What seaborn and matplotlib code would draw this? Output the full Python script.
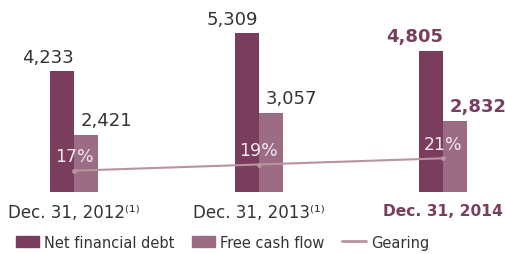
import pandas as pd
import matplotlib.pyplot as plt
from matplotlib.patches import Patch
from matplotlib.lines import Line2D
import seaborn as sns

periods = ["Dec. 31, 2012⁽¹⁾", "Dec. 31, 2013⁽¹⁾", "Dec. 31, 2014"]
net_debt = [4233, 5309, 4805]
free_cash_flow = [2421, 3057, 2832]
gearing = [17, 19, 21]
series_names = ["Net financial debt", "Free cash flow", "Gearing"]

dark = "#7a3d5e"
light = "#9b6c83"
line_col = "#b8949f"
text_col = "#333333"

df = pd.DataFrame({
    "period": periods * 2,
    "value": net_debt + free_cash_flow,
    "series": [series_names[0]] * 3 + [series_names[1]] * 3,
})

sns.set_theme(style="white")
plt.rcParams["font.family"] = ["DejaVu Sans"]

fig = plt.figure(figsize=(5.06, 2.55), dpi=100)
ax = fig.add_axes([0, 62 / 255, 1, 193 / 255])

sns.barplot(data=df, x="period", y="value", hue="series", palette=[dark, light],
            width=0.26, gap=0, errorbar=None, saturation=1, legend=False,
            linewidth=0, ax=ax)

ax.set_xlim(-0.401, 2.341)
ax.set_ylim(807, 6275)
sns.despine(ax=ax, left=True, bottom=True)
ax.set_yticks([])
ax.set_xlabel("")
ax.set_ylabel("")
ax.tick_params(axis="x", length=0, pad=8, labelsize=12, labelcolor=text_col)
ax.set_xticks(range(3))
ax.set_xticklabels(periods)
ax.get_xticklabels()[2].set_color(dark)
ax.get_xticklabels()[2].set_fontweight("bold")
ax.get_xticklabels()[2].set_fontsize(11.2)

for i in range(3):
    hl = i == 2
    c = dark if hl else text_col
    w = "bold" if hl else "normal"
    ax.annotate(f"{net_debt[i]:,}", (i, net_debt[i]), xytext=(0, 4),
                textcoords="offset points", ha="right", va="bottom",
                fontsize=13, color=c, fontweight=w)
    ax.annotate(f"{free_cash_flow[i]:,}", (i, free_cash_flow[i]), xytext=(5, 4),
                textcoords="offset points", ha="left", va="bottom",
                fontsize=13, color=c, fontweight=w)

ax2 = ax.twinx()
ax2.set_ylim(10.13, 72.39)
ax2.set_yticks([])
sns.despine(ax=ax2, left=True, bottom=True, right=True)
sns.lineplot(x=range(3), y=gearing, color=line_col, lw=1.5, marker="o",
             markersize=3.5, markeredgewidth=0, ax=ax2)
for i, g in enumerate(gearing):
    ax2.annotate(f"{g}%", (i, g), xytext=(0, 4), textcoords="offset points",
                 ha="center", va="bottom", fontsize=12.5, color="#f3e8ee")

handles = [Patch(color=dark), Patch(color=light), Line2D([], [], color=line_col, lw=2)]
fig.legend(handles, series_names, loc="lower left", bbox_to_anchor=(0.005, -0.035),
           ncol=3, frameon=False, fontsize=10.5, handlelength=1.6, handleheight=0.8,
           handletextpad=0.35, columnspacing=1.2, labelcolor=text_col)

plt.savefig("out.png", dpi=100)
